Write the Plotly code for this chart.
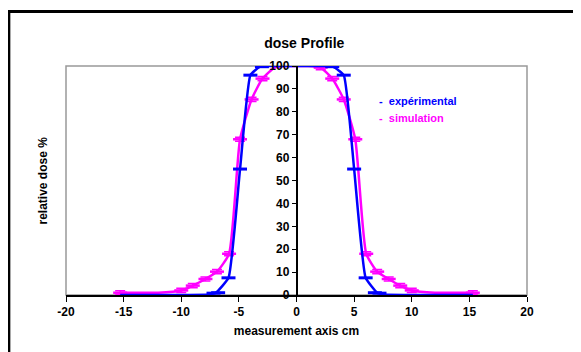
import plotly.graph_objects as go

exp_x = [-15.3, -10.0, -7.6, -7.0, -5.9, -4.9, -4.0, -3.2, -2.5, -1.5, 0.0, 1.5, 2.5, 3.2, 4.1, 5.0, 6.0, 7.0, 7.6, 10.0, 15.3]
exp_y = [0, 0, 0.2, 1.0, 7.5, 55, 96, 99.6, 100, 100, 100, 100, 100, 99.6, 96, 55, 7.5, 1.0, 0.2, 0, 0]
exp_mark_x = [-7.2, -6.8, -5.9, -4.9, -4.0, -3.0, 3.1, 4.1, 5.0, 6.0, 6.8, 7.2]
exp_mark_y = [0.8, 1.0, 7.5, 55, 96, 99.7, 99.7, 96, 55, 7.5, 1.0, 0.8]

sim_x = [-15.3, -12.0, -10.0, -9.0, -7.9, -6.9, -5.85, -4.9, -3.9, -2.95, -1.9, -1.0, 0.0, 1.0, 2.1, 3.1, 4.1, 5.1, 6.05, 7.0, 8.0, 9.0, 10.0, 12.0, 15.3]
sim_y = [1.0, 1.0, 2.0, 4.1, 7.0, 10.2, 18, 68, 85.4, 94.5, 99.3, 100, 100, 100, 99.3, 94.5, 85.4, 68, 18, 10.2, 7.0, 4.1, 2.0, 1.0, 1.0]
sim_mark_x = [-15.3, -10.0, -9.0, -7.9, -6.9, -5.85, -4.9, -3.9, -2.95, 2.1, 3.1, 4.1, 5.1, 6.05, 7.0, 8.0, 9.0, 10.0, 15.3]
sim_mark_y = [1.0, 2.0, 4.1, 7.0, 10.2, 18, 68, 85.4, 94.5, 99.3, 94.5, 85.4, 68, 18, 10.2, 7.0, 4.1, 2.0, 1.0]

x_ticks = [-20, -15, -10, -5, 0, 5, 10, 15, 20]
y_ticks = [0, 10, 20, 30, 40, 50, 60, 70, 80, 90, 100]

BLUE = "#0000FF"
MAG = "#FF00FF"
FONT = "Liberation Sans"

fig = go.Figure()
fig.add_trace(go.Scatter(x=sim_x, y=sim_y, mode="lines", line=dict(color=MAG, width=2.5, shape="spline", smoothing=0.5),
                         showlegend=False, hoverinfo="skip"))
fig.add_trace(go.Scatter(x=sim_mark_x, y=sim_mark_y, mode="markers",
                         marker=dict(symbol="line-ew", size=10, line=dict(color=MAG, width=2.5)),
                         error_y=dict(type="constant", value=0.9, color=MAG, thickness=1.5, width=5),
                         showlegend=False))
fig.add_trace(go.Scatter(x=exp_x, y=exp_y, mode="lines", line=dict(color=BLUE, width=2.5, shape="spline", smoothing=0.4),
                         showlegend=False, hoverinfo="skip"))
fig.add_trace(go.Scatter(x=exp_mark_x, y=exp_mark_y, mode="markers",
                         marker=dict(symbol="line-ew", size=10, line=dict(color=BLUE, width=3)),
                         showlegend=False))

fig.update_layout(
    width=581, height=352,
    margin=dict(l=58, r=62, t=58, b=65),
    paper_bgcolor="white", plot_bgcolor="white",
    font=dict(family=FONT, size=12, color="black", weight="bold"),
    title=dict(text="dose Profile", x=0.51, xanchor="center", y=0.9, yanchor="middle",
               font=dict(family=FONT, size=14, color="black", weight="bold")),
    xaxis=dict(range=[-20, 20], tickvals=x_ticks, ticktext=[str(v) for v in x_ticks],
               showgrid=False, zeroline=False, showline=True, linecolor="black", linewidth=1.5,
               ticks="outside", ticklen=5, tickcolor="black",
               title=dict(text="measurement axis cm", font=dict(family=FONT, size=12, weight="bold"), standoff=8)),
    yaxis=dict(range=[0, 100], tickvals=y_ticks, ticktext=[str(v) for v in y_ticks],
               anchor="free", position=0.5, showgrid=False, zeroline=False,
               showline=True, linecolor="black", linewidth=1.5,
               ticks="outside", ticklen=4, tickcolor="black"),
    shapes=[
        dict(type="rect", xref="paper", yref="paper", x0=0, x1=1, y0=0, y1=1,
             line=dict(color="#999999", width=1.5), layer="below"),
        dict(type="line", xref="paper", yref="paper", x0=-0.13, x1=1.2, y0=1.238, y1=1.238,
             line=dict(color="black", width=3)),
        dict(type="line", xref="paper", yref="paper", x0=-0.124, x1=-0.124, y0=-0.35, y1=1.24,
             line=dict(color="black", width=3)),
    ],
    annotations=[
        dict(text="relative dose %", xref="paper", yref="paper", x=-0.052, y=0.5, textangle=-90,
             showarrow=False, xanchor="center", yanchor="middle",
             font=dict(family=FONT, size=12, color="black", weight="bold")),
        dict(text="-  expérimental", xref="paper", yref="paper", x=0.675, y=0.845,
             showarrow=False, xanchor="left", yanchor="middle",
             font=dict(family=FONT, size=11, color=BLUE, weight="bold")),
        dict(text="-  simulation", xref="paper", yref="paper", x=0.675, y=0.775,
             showarrow=False, xanchor="left", yanchor="middle",
             font=dict(family=FONT, size=11, color=MAG, weight="bold")),
    ],
)

fig.write_html("out.html")
